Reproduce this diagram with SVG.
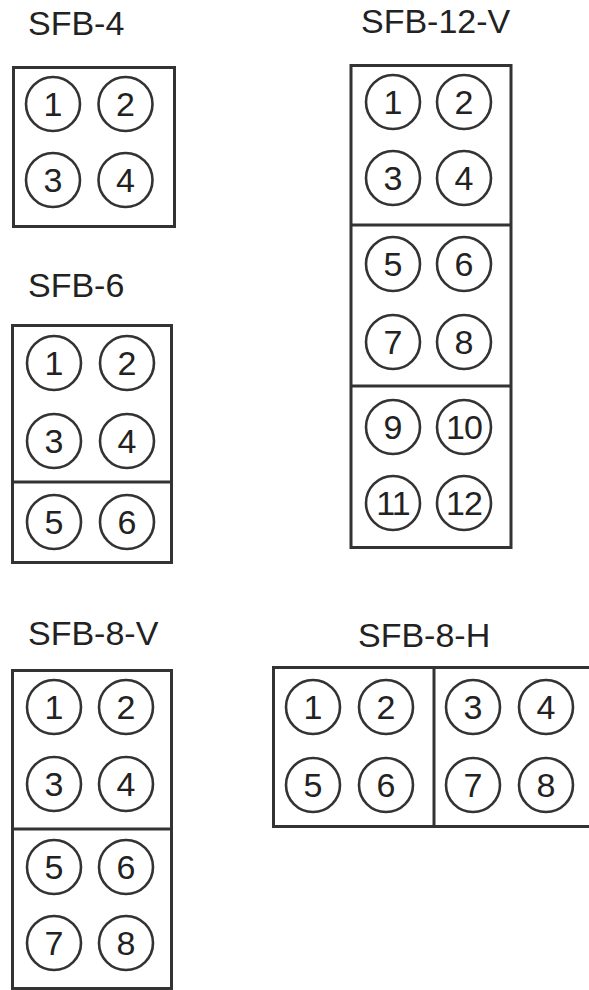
<svg xmlns="http://www.w3.org/2000/svg" width="589" height="990" viewBox="0 0 589 990">
<style>
.box{fill:#fff;stroke:#333;stroke-width:3}
.div{stroke:#333;stroke-width:3}
.pin{fill:#fff;stroke:#333;stroke-width:2.6}
.lbl{font-family:"Liberation Sans",Arial,sans-serif;font-size:34px;fill:#222}
.num{font-family:"Liberation Sans",Arial,sans-serif;font-size:34px;fill:#222;text-anchor:middle}
</style>
<rect width="589" height="990" fill="#fff"/>

<g id="sfb4">
<text class="lbl" x="28" y="35">SFB-4</text>
<rect class="box" x="13.5" y="67.5" width="161" height="159"/>
<circle class="pin" cx="53" cy="104" r="27"/><text class="num" x="53" y="116">1</text>
<circle class="pin" cx="125.5" cy="104" r="27"/><text class="num" x="125.5" y="116">2</text>
<circle class="pin" cx="53" cy="180" r="27"/><text class="num" x="53" y="192">3</text>
<circle class="pin" cx="125.5" cy="180" r="27"/><text class="num" x="125.5" y="192">4</text>
</g>

<g id="sfb12v">
<text class="lbl" x="361" y="33">SFB-12-V</text>
<rect class="box" x="351" y="65.5" width="160" height="482"/>
<line class="div" x1="351" y1="225" x2="511" y2="225"/>
<line class="div" x1="351" y1="386" x2="511" y2="386"/>
<circle class="pin" cx="393" cy="102" r="27"/><text class="num" x="393" y="114">1</text>
<circle class="pin" cx="464" cy="102" r="27"/><text class="num" x="464" y="114">2</text>
<circle class="pin" cx="393" cy="178" r="27"/><text class="num" x="393" y="190">3</text>
<circle class="pin" cx="464" cy="178" r="27"/><text class="num" x="464" y="190">4</text>
<circle class="pin" cx="393" cy="264" r="27"/><text class="num" x="393" y="276">5</text>
<circle class="pin" cx="464" cy="264" r="27"/><text class="num" x="464" y="276">6</text>
<circle class="pin" cx="393" cy="342" r="27"/><text class="num" x="393" y="354">7</text>
<circle class="pin" cx="464" cy="342" r="27"/><text class="num" x="464" y="354">8</text>
<circle class="pin" cx="393" cy="427" r="27"/><text class="num" x="393" y="439">9</text>
<circle class="pin" cx="464" cy="427" r="27"/><text class="num" x="464" y="439" letter-spacing="-1">10</text>
<circle class="pin" cx="393" cy="503" r="27"/><text class="num" x="393" y="515" letter-spacing="-1">11</text>
<circle class="pin" cx="464" cy="503" r="27"/><text class="num" x="464" y="515" letter-spacing="-1">12</text>
</g>

<g id="sfb6">
<text class="lbl" x="28" y="297">SFB-6</text>
<rect class="box" x="12.5" y="325.5" width="159" height="237"/>
<line class="div" x1="12.5" y1="482" x2="171.5" y2="482"/>
<circle class="pin" cx="54" cy="363" r="27"/><text class="num" x="54" y="375">1</text>
<circle class="pin" cx="127" cy="363" r="27"/><text class="num" x="127" y="375">2</text>
<circle class="pin" cx="54" cy="441" r="27"/><text class="num" x="54" y="453">3</text>
<circle class="pin" cx="127" cy="441" r="27"/><text class="num" x="127" y="453">4</text>
<circle class="pin" cx="54" cy="522" r="27"/><text class="num" x="54" y="534">5</text>
<circle class="pin" cx="127" cy="522" r="27"/><text class="num" x="127" y="534">6</text>
</g>

<g id="sfb8v">
<text class="lbl" x="28" y="645">SFB-8-V</text>
<rect class="box" x="12.5" y="670.5" width="159" height="318"/>
<line class="div" x1="12.5" y1="829" x2="171.5" y2="829"/>
<circle class="pin" cx="54" cy="707" r="27"/><text class="num" x="54" y="719">1</text>
<circle class="pin" cx="126" cy="707" r="27"/><text class="num" x="126" y="719">2</text>
<circle class="pin" cx="54" cy="784" r="27"/><text class="num" x="54" y="796">3</text>
<circle class="pin" cx="126" cy="784" r="27"/><text class="num" x="126" y="796">4</text>
<circle class="pin" cx="54" cy="867" r="27"/><text class="num" x="54" y="879">5</text>
<circle class="pin" cx="126" cy="867" r="27"/><text class="num" x="126" y="879">6</text>
<circle class="pin" cx="54" cy="943" r="27"/><text class="num" x="54" y="955">7</text>
<circle class="pin" cx="126" cy="943" r="27"/><text class="num" x="126" y="955">8</text>
</g>

<g id="sfb8h">
<text class="lbl" x="358" y="647">SFB-8-H</text>
<rect class="box" x="273.5" y="667.5" width="330" height="159"/>
<line class="div" x1="434" y1="667.5" x2="434" y2="826.5"/>
<circle class="pin" cx="313" cy="707" r="27"/><text class="num" x="313" y="719">1</text>
<circle class="pin" cx="386" cy="707" r="27"/><text class="num" x="386" y="719">2</text>
<circle class="pin" cx="473" cy="707" r="27"/><text class="num" x="473" y="719">3</text>
<circle class="pin" cx="546" cy="707" r="27"/><text class="num" x="546" y="719">4</text>
<circle class="pin" cx="313" cy="785" r="27"/><text class="num" x="313" y="797">5</text>
<circle class="pin" cx="386" cy="785" r="27"/><text class="num" x="386" y="797">6</text>
<circle class="pin" cx="473" cy="785" r="27"/><text class="num" x="473" y="797">7</text>
<circle class="pin" cx="546" cy="785" r="27"/><text class="num" x="546" y="797">8</text>
</g>

<g id="connectors"></g>
</svg>
